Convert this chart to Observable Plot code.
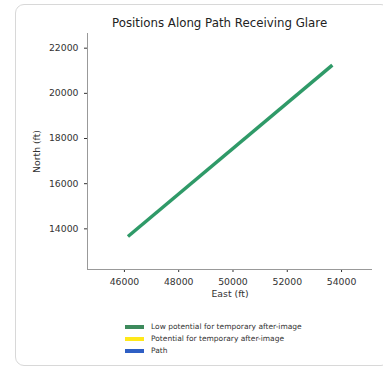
<!DOCTYPE html>
<html><head><meta charset="utf-8">
<script src="https://cdn.jsdelivr.net/npm/d3@7"></script>
<script src="https://cdn.jsdelivr.net/npm/@observablehq/plot@0.6"></script>
<style>
body{margin:0;background:#fff;font-family:"DejaVu Sans",sans-serif;}
#wrap{position:relative;width:383px;height:374px;overflow:hidden;}
#card{position:absolute;left:15px;top:4px;width:375px;height:362px;border:1px solid #d8d8d8;border-radius:9px;box-sizing:border-box;}
#title{position:absolute;left:112px;top:16px;white-space:nowrap;font-size:11.8px;color:#222;}
#chart{position:absolute;left:0;top:0;}
#legend{position:absolute;left:125px;top:321px;font-size:7.5px;color:#333;line-height:12px;}
.sw{display:inline-block;width:19px;height:4px;vertical-align:middle;margin-right:7px;}
</style></head>
<body><div id="wrap"><div id="card"></div><div id="chart"></div><div id="title">Positions Along Path Receiving Glare</div><div id="legend"></div></div>
<script>
const east = [46130, 53660];
const north = [13660, 21250];
const xTicks = [46000, 48000, 50000, 52000, 54000];
const yTicks = [14000, 16000, 18000, 20000, 22000];
const legendLabels = ["Low potential for temporary after-image", "Potential for temporary after-image", "Path"];
const legendColors = ["#3d8a5c", "#ffe81a", "#2f5fc4"];

const pts = east.map((e, i) => ({east: e, north: north[i]}));
const plot = Plot.plot({
  width: 383, height: 300,
  marginLeft: 87, marginRight: 11, marginTop: 33, marginBottom: 31,
  style: {fontFamily: "DejaVu Sans, sans-serif", fontSize: "9.3px", color: "#333", background: "transparent"},
  x: {domain: [44640, 55140], ticks: xTicks, tickFormat: d => String(d), label: "East (ft)", labelAnchor: "center", labelArrow: "none", labelOffset: 27, tickSize: 3},
  y: {domain: [12200, 22650], ticks: yTicks, tickFormat: d => String(d), label: "North (ft)", labelAnchor: "center", labelArrow: "none", labelOffset: 54, tickSize: 3},
  marks: [
    Plot.ruleX([44640], {stroke: "#999"}),
    Plot.ruleY([12200], {stroke: "#999"}),
    Plot.line(pts, {x: "east", y: "north", stroke: "#2f9a68", strokeWidth: 3.5, strokeLinecap: "butt"})
  ]
});
document.getElementById("chart").appendChild(plot);
const lg = document.getElementById("legend");
legendLabels.forEach((l, i) => {
  const d = document.createElement("div");
  d.innerHTML = `<span class="sw" style="background:${legendColors[i]}"></span>${l}`;
  lg.appendChild(d);
});
</script></body></html>
